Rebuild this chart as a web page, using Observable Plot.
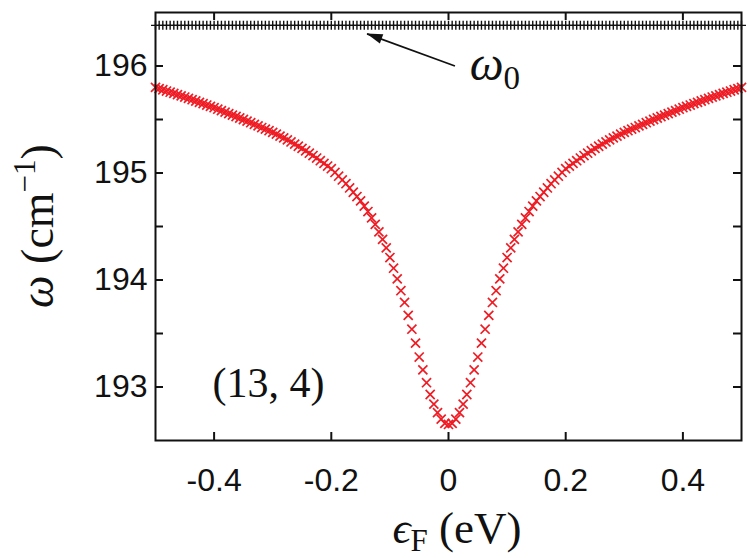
<!DOCTYPE html>
<html><head><meta charset="utf-8">
<script src="https://cdn.jsdelivr.net/npm/d3@7"></script>
<script src="https://cdn.jsdelivr.net/npm/@observablehq/plot@0.6"></script>
<style>body{margin:0;background:#fff} svg{display:block}</style>
</head><body><div id="chart"></div>
<script>
// Fermi energy (eV)
const epsF = [-0.5, -0.49375, -0.4875, -0.48125, -0.475, -0.46875, -0.4625, -0.45625, -0.45, -0.44375,
 -0.4375, -0.43125, -0.425, -0.41875, -0.4125, -0.40625, -0.4, -0.39375, -0.3875, -0.38125,
 -0.375, -0.36875, -0.3625, -0.35625, -0.35, -0.34375, -0.3375, -0.33125, -0.325, -0.31875,
 -0.3125, -0.30625, -0.3, -0.29375, -0.2875, -0.28125, -0.275, -0.26875, -0.2625, -0.25625,
 -0.25, -0.24375, -0.2375, -0.23125, -0.225, -0.21875, -0.2125, -0.20625, -0.2, -0.19375,
 -0.1875, -0.18125, -0.175, -0.16875, -0.1625, -0.15625, -0.15, -0.14375, -0.1375, -0.13125,
 -0.125, -0.11875, -0.1125, -0.10625, -0.1, -0.09375, -0.0875, -0.08125, -0.075, -0.06875,
 -0.0625, -0.05625, -0.05, -0.04375, -0.0375, -0.03125, -0.025, -0.01875, -0.0125, -0.00625,
 0,
 0.00625, 0.0125, 0.01875, 0.025, 0.03125, 0.0375, 0.04375, 0.05, 0.05625, 0.0625,
 0.06875, 0.075, 0.08125, 0.0875, 0.09375, 0.1, 0.10625, 0.1125, 0.11875, 0.125,
 0.13125, 0.1375, 0.14375, 0.15, 0.15625, 0.1625, 0.16875, 0.175, 0.18125, 0.1875,
 0.19375, 0.2, 0.20625, 0.2125, 0.21875, 0.225, 0.23125, 0.2375, 0.24375, 0.25,
 0.25625, 0.2625, 0.26875, 0.275, 0.28125, 0.2875, 0.29375, 0.3, 0.30625, 0.3125,
 0.31875, 0.325, 0.33125, 0.3375, 0.34375, 0.35, 0.35625, 0.3625, 0.36875, 0.375,
 0.38125, 0.3875, 0.39375, 0.4, 0.40625, 0.4125, 0.41875, 0.425, 0.43125, 0.4375,
 0.44375, 0.45, 0.45625, 0.4625, 0.46875, 0.475, 0.48125, 0.4875, 0.49375, 0.5];

// Softened phonon frequency omega (cm^-1)
const omega = [195.800, 195.789, 195.778, 195.766, 195.755, 195.744, 195.733, 195.721, 195.710, 195.698,
 195.685, 195.673, 195.660, 195.648, 195.635, 195.623, 195.610, 195.596, 195.583, 195.569,
 195.555, 195.541, 195.528, 195.514, 195.500, 195.485, 195.470, 195.455, 195.440, 195.425,
 195.410, 195.395, 195.380, 195.363, 195.345, 195.328, 195.310, 195.290, 195.270, 195.250,
 195.230, 195.208, 195.185, 195.163, 195.140, 195.115, 195.090, 195.065, 195.040, 195.005,
 194.970, 194.935, 194.900, 194.860, 194.820, 194.780, 194.740, 194.690, 194.640, 194.580,
 194.520, 194.450, 194.380, 194.300, 194.210, 194.110, 194.010, 193.900, 193.790, 193.670,
 193.540, 193.410, 193.280, 193.160, 193.040, 192.930, 192.840, 192.760, 192.700, 192.660,
 192.650,
 192.660, 192.700, 192.760, 192.840, 192.930, 193.040, 193.160, 193.280, 193.410, 193.540,
 193.670, 193.790, 193.900, 194.010, 194.110, 194.210, 194.300, 194.380, 194.450, 194.520,
 194.580, 194.640, 194.690, 194.740, 194.780, 194.820, 194.860, 194.900, 194.935, 194.970,
 195.005, 195.040, 195.065, 195.090, 195.115, 195.140, 195.163, 195.185, 195.208, 195.230,
 195.250, 195.270, 195.290, 195.310, 195.328, 195.345, 195.363, 195.380, 195.395, 195.410,
 195.425, 195.440, 195.455, 195.470, 195.485, 195.500, 195.514, 195.528, 195.541, 195.555,
 195.569, 195.583, 195.596, 195.610, 195.623, 195.635, 195.648, 195.660, 195.673, 195.685,
 195.698, 195.710, 195.721, 195.733, 195.744, 195.755, 195.766, 195.778, 195.789, 195.800];

// Bare phonon frequency omega_0 (cm^-1), black markers
const omega0 = 196.38;

const xTicks = [-0.4, -0.2, 0, 0.2, 0.4];
const xTickLabels = ["-0.4", "-0.2", "0", "0.2", "0.4"];
const yTicks = [193, 193.5, 194, 194.5, 195, 195.5, 196];
const yLabelTicks = [193, 194, 195, 196];
const yTickLabels = ["193", "194", "195", "196"];
const xDomain = [-0.5, 0.5];
const yDomain = [192.5, 196.5];

// annotations (data coordinates)
const tubeLabel = "(13, 4)";
const tubeLabelAt = {x: -0.307, y: 193.03};
const arrowFrom = {x: 0.011, y: 196.0};
const arrowTo = {x: -0.139, y: 196.30};
const omega0LabelAt = {x: 0.08, y: 195.86};

const W = 750, H = 558, mL = 155, mR = 9, mT = 12, mB = 118;
const innerW = W - mL - mR, innerH = H - mT - mB;
const tickLen = 8;
const ink = "#111";
const serif = "'Liberation Serif','Times New Roman',serif";

const redPts = epsF.map((x, i) => ({x, y: omega[i]}));
const blackPts = epsF.map(x => ({x, y: omega0}));

const chart = Plot.plot({
  width: W, height: H,
  marginLeft: mL, marginRight: mR, marginTop: mT, marginBottom: mB,
  x: {domain: xDomain},
  y: {domain: yDomain},
  style: {fontFamily: "'Liberation Sans', Arial, sans-serif", background: "#fff", color: ink},
  marks: [
    Plot.ruleX(xTicks, {insetTop: innerH - tickLen, stroke: ink, strokeWidth: 2}),
    Plot.ruleX(xTicks, {insetBottom: innerH - tickLen, stroke: ink, strokeWidth: 2}),
    Plot.ruleY(yTicks, {insetRight: innerW - tickLen, stroke: ink, strokeWidth: 2}),
    Plot.ruleY(yTicks, {insetLeft: innerW - tickLen, stroke: ink, strokeWidth: 2}),
    Plot.axisX(xTicks, {tickSize: 0, tickPadding: 28, fontSize: 32, label: null,
      tickFormat: d => xTickLabels[xTicks.indexOf(d)]}),
    Plot.axisY(yLabelTicks, {tickSize: 0, tickPadding: 8, fontSize: 32, label: null,
      tickFormat: d => yTickLabels[yLabelTicks.indexOf(d)]}),
    Plot.dot(blackPts, {x: "x", y: "y", symbol: "plus", r: 3.0, stroke: ink, strokeWidth: 1.4}),
    Plot.dot(redPts, {x: "x", y: "y", symbol: "times", r: 4.2, stroke: "#ee1c24", strokeWidth: 1.7}),
    Plot.link([{x1: arrowFrom.x, y1: arrowFrom.y, x2: arrowTo.x, y2: arrowTo.y}],
      {x1: "x1", y1: "y1", x2: "x2", y2: "y2", stroke: ink, strokeWidth: 1.7}),
    Plot.text([{t: tubeLabel, ...tubeLabelAt}], {x: "x", y: "y", text: "t", fontSize: 42,
      fontFamily: serif, fill: ink}),
    Plot.frame({stroke: ink, strokeWidth: 2})
  ]
});

document.getElementById("chart").appendChild(chart);

const sx = chart.scale("x"), sy = chart.scale("y");
const svg = d3.select(chart);

// filled arrow head
{
  const p1 = [sx.apply(arrowFrom.x), sy.apply(arrowFrom.y)];
  const p2 = [sx.apply(arrowTo.x), sy.apply(arrowTo.y)];
  const dx = p2[0] - p1[0], dy = p2[1] - p1[1], L = Math.hypot(dx, dy);
  const ux = dx / L, uy = dy / L, nx = -uy, ny = ux;
  const hl = 16, hw = 5;
  const bx = p2[0] - ux * hl, by = p2[1] - uy * hl;
  svg.append("path")
    .attr("d", `M${p2[0]},${p2[1]}L${bx + nx * hw},${by + ny * hw}L${bx - nx * hw},${by - ny * hw}Z`)
    .attr("fill", ink);
}

// omega_0 label
{
  const t = svg.append("text")
    .attr("x", sx.apply(omega0LabelAt.x)).attr("y", sy.apply(omega0LabelAt.y))
    .attr("text-anchor", "middle").attr("font-family", serif).attr("fill", ink);
  t.append("tspan").attr("font-style", "italic").attr("font-size", 48).text("ω");
  t.append("tspan").attr("font-size", 33).attr("dy", 9).text("0");
}

// x axis label
{
  const cx = sx.apply((xDomain[0] + xDomain[1]) / 2) + 9;
  const t = svg.append("text")
    .attr("x", cx).attr("y", 543)
    .attr("text-anchor", "middle").attr("font-family", serif).attr("fill", ink);
  t.append("tspan").attr("font-style", "italic").attr("font-size", 45).text("ϵ");
  t.append("tspan").attr("font-size", 31).attr("dy", 8).text("F");
  t.append("tspan").attr("font-size", 45).attr("dy", -8).text(" (eV)");
}

// y axis label
{
  const cy = sy.apply((yDomain[0] + yDomain[1]) / 2);
  const t = svg.append("text")
    .attr("transform", `translate(53,${cy}) rotate(-90)`)
    .attr("text-anchor", "middle").attr("font-family", serif).attr("fill", ink);
  t.append("tspan").attr("font-style", "italic").attr("font-size", 46).text("ω");
  t.append("tspan").attr("font-size", 46).text(" (cm");
  t.append("tspan").attr("font-size", 31).attr("dy", -18).text("−1");
  t.append("tspan").attr("font-size", 46).attr("dy", 18).text(")");
}
</script>
</body></html>
